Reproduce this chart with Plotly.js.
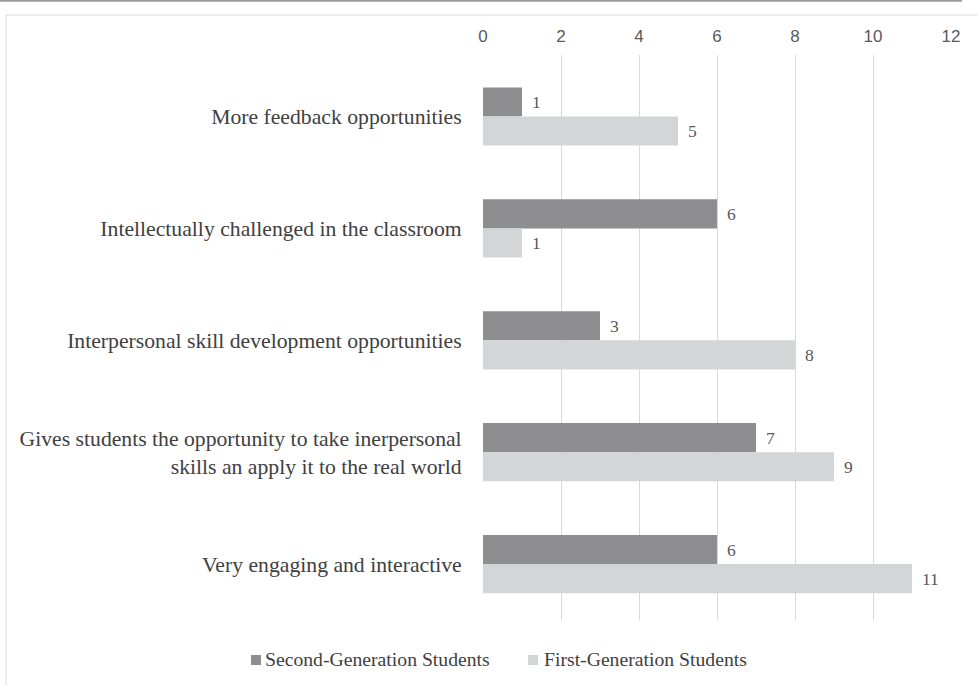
<!DOCTYPE html>
<html>
<head>
<meta charset="utf-8">
<script src="https://cdn.plot.ly/plotly-3.0.1.min.js"></script>
<style>html,body{margin:0;padding:0;background:#fff;}#chart{width:977px;height:685px;}</style>
</head>
<body>
<div id="chart"></div>
<script>
var categories = [
  "More feedback opportunities",
  "Intellectually challenged in the classroom",
  "Interpersonal skill development opportunities",
  "Gives students the opportunity to take inerpersonal<br>skills an apply it to the real world",
  "Very engaging and interactive"
];
var secondGen = [1, 6, 3, 7, 6];
var firstGen = [5, 1, 8, 9, 11];
var seriesNames = ["Second-Generation Students", "First-Generation Students"];
var seriesColors = ['#8e8e90', '#d4d5d7'];
var xTicks = [0, 2, 4, 6, 8, 10, 12];

var serif = "Liberation Serif, Times New Roman, serif";
var narrow = "Liberation Sans Narrow, Arial Narrow, Liberation Sans, sans-serif";

var W = 977, H = 685, ML = 483, MR = 26, MT = 55, MB = 65;
var PW = W - ML - MR, PH = H - MT - MB;
function px(x) { return (x - ML) / PW; }
function py(y) { return (H - MB - y) / PH; }

var seriesData = [secondGen, firstGen];
var traces = seriesData.map(function (vals, i) {
  return {type: 'bar', orientation: 'h', name: seriesNames[i], y: categories, x: vals,
          marker: {color: seriesColors[i]}, hoverinfo: 'x'};
});

var annotations = [];
seriesData.forEach(function (vals, i) {
  vals.forEach(function (v, j) {
    annotations.push({x: v, y: categories[j], xref: 'x', yref: 'y', text: String(v),
      showarrow: false, xanchor: 'left', yanchor: 'middle', xshift: 8, yshift: i === 0 ? 14.5 : -14.5,
      font: {family: serif, size: 17.5, color: '#595959'}});
  });
});

// manual legend
var legendPos = [{sq: 251, tx: 263}, {sq: 528, tx: 542}];
var shapes = [
  {type: 'line', xref: 'paper', yref: 'paper', x0: px(0), x1: px(962), y0: py(0.8), y1: py(0.8),
   line: {color: '#9a9a9a', width: 2}},
  {type: 'rect', xref: 'paper', yref: 'paper', x0: px(6), x1: px(1000), y0: py(700), y1: py(15),
   line: {color: '#d9d9d9', width: 1}, fillcolor: 'rgba(0,0,0,0)', layer: 'below'}
];
seriesNames.forEach(function (name, i) {
  shapes.push({type: 'rect', xref: 'paper', yref: 'paper', x0: px(legendPos[i].sq), x1: px(legendPos[i].sq + 10),
    y0: py(665), y1: py(655), line: {width: 0}, fillcolor: seriesColors[i]});
  annotations.push({xref: 'paper', yref: 'paper', x: px(legendPos[i].tx), y: py(659), text: name,
    showarrow: false, xanchor: 'left', yanchor: 'middle',
    font: {family: serif, size: 19.7, color: '#404040'}});
});

var layout = {
  width: W, height: H,
  margin: {l: ML, r: MR, t: MT, b: MB},
  paper_bgcolor: '#fff', plot_bgcolor: '#fff',
  barmode: 'group', bargap: 0.48, bargroupgap: 0,
  showlegend: false,
  xaxis: {side: 'top', range: [0, 12], tickvals: xTicks, ticktext: xTicks.map(String),
          showgrid: true, gridcolor: '#d9d9d9', gridwidth: 1, zeroline: false, showline: false,
          ticks: 'outside', ticklen: 5, tickcolor: 'rgba(0,0,0,0)',
          tickfont: {family: narrow, size: 17, color: '#595959'}, fixedrange: true},
  yaxis: {type: 'category', range: [4.5, -0.55], autorange: false, showgrid: false, zeroline: false, showline: false,
          ticks: 'outside', ticklen: 16, tickcolor: 'rgba(0,0,0,0)',
          tickfont: {family: serif, size: 21.7, color: '#404040'}, fixedrange: true},
  shapes: shapes,
  annotations: annotations
};

Plotly.newPlot('chart', traces, layout, {displayModeBar: false, staticPlot: true});
</script>
</body>
</html>
